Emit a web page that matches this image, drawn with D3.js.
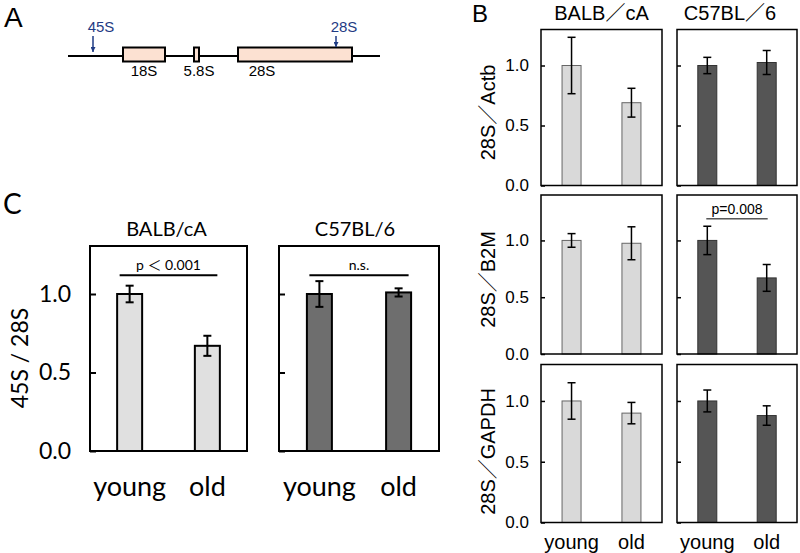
<!DOCTYPE html>
<html><head><meta charset="utf-8">
<script src="https://cdn.jsdelivr.net/npm/d3@7"></script>
<style>body{margin:0;background:#fff}svg{display:block}</style>
</head><body>
<svg id="chart" width="800" height="553"></svg>
<script>
// ---------- data ----------
const groups = ["young", "old"];
const strains = ["BALB/cA", "C57BL/6"];
const strainTitlesB = ["BALB／cA", "C57BL／6"];
const yTicks = [0, 0.5, 1.0];

// Panel C: 45S / 28S
const cBalbMean = [1.00, 0.67];
const cBalbErr  = [0.053, 0.064];
const cC57Mean  = [1.00, 1.01];
const cC57Err   = [0.082, 0.026];
const cSigLabels = ["p ＜ 0.001", "n.s."];

// Panel B: 28S normalised to reference genes
const bRowLabels = ["28S／Actb", "28S／B2M", "28S／GAPDH"];
const bBalbMean = [[1.00, 0.69], [1.00, 0.975], [1.00, 0.90]];
const bBalbErr  = [[0.235, 0.12], [0.06, 0.145], [0.15, 0.088]];
const bC57Mean  = [[1.00, 1.025], [1.00, 0.67], [1.00, 0.88]];
const bC57Err   = [[0.068, 0.10], [0.125, 0.118], [0.09, 0.08]];
const bYMax     = [1.30, 1.40, 1.30];
const bSig      = [null, [null, "p=0.008"], null];

// Panel A: rDNA map
const geneNames = ["18S", "5.8S", "28S"];
const geneStart = [123, 194, 238];
const geneEnd   = [165, 199, 352];
const probeNames = ["45S", "28S"];
const probePos   = [93, 336];

const svg = d3.select("#chart");

// ---------- generic bar panel ----------
function barPanel(o) {
  const g = svg.append("g").attr("transform", `translate(${o.x0},${o.top})`);
  const w = o.x1 - o.x0, h = o.bottom - o.top;
  const x = d3.scalePoint().domain(groups).range([0, w]).padding(0.51);
  const y = d3.scaleLinear().domain([0, o.ymax]).range([h, 0]);
  const data = groups.map((k, i) => ({k, m: o.mean[i], e: o.err[i]}));
  g.selectAll("rect.bar").data(data).join("rect").attr("class", "bar")
    .attr("x", d => x(d.k) - o.barW / 2).attr("width", o.barW)
    .attr("y", d => y(d.m)).attr("height", d => h - y(d.m))
    .attr("fill", o.fill).attr("stroke", o.barStroke).attr("stroke-width", o.barSW);
  const eb = g.selectAll("g.eb").data(data).join("g").attr("class", "eb")
    .attr("stroke", "#000").attr("stroke-width", o.errSW);
  eb.append("line").attr("x1", d => x(d.k)).attr("x2", d => x(d.k))
    .attr("y1", d => y(d.m + d.e)).attr("y2", d => y(d.m - d.e));
  eb.append("line").attr("x1", d => x(d.k) - o.cap).attr("x2", d => x(d.k) + o.cap)
    .attr("y1", d => y(d.m + d.e)).attr("y2", d => y(d.m + d.e));
  eb.append("line").attr("x1", d => x(d.k) - o.cap).attr("x2", d => x(d.k) + o.cap)
    .attr("y1", d => y(d.m - d.e)).attr("y2", d => y(d.m - d.e));
  const ax = g.append("g").call(d3.axisLeft(y).tickValues(yTicks)
      .tickSizeInner(-o.tick).tickSizeOuter(0).tickPadding(o.tickPad)
      .tickFormat(o.labels ? d3.format(".1f") : () => ""));
  ax.select(".domain").remove();
  ax.selectAll("line").attr("stroke", "#000").attr("stroke-width", o.boxSW);
  ax.selectAll("text").attr("font-size", o.tickFont).attr("font-family", o.font).attr("fill", "#000");
  g.append("rect").attr("width", w).attr("height", h).attr("fill", "none")
    .attr("stroke", "#000").attr("stroke-width", o.boxSW);
  if (o.sig) {
    const sy = y(o.sig.v);
    g.append("line").attr("x1", x(groups[0]) - o.sig.ext).attr("x2", x(groups[1]) + o.sig.ext)
      .attr("y1", sy).attr("y2", sy).attr("stroke", "#000").attr("stroke-width", o.sig.sw);
    g.append("text").attr("x", (x(groups[0]) + x(groups[1])) / 2).attr("y", sy - 5)
      .attr("text-anchor", "middle").attr("font-family", o.font).attr("font-size", o.sig.fs)
      .text(o.sig.text);
  }
  if (o.xlabels) {
    g.selectAll("text.xl").data(groups).join("text").attr("class", "xl")
      .attr("x", d => x(d)).attr("y", h + o.xlabDy).attr("text-anchor", "middle")
      .attr("font-family", o.font).attr("font-size", o.xlabFont).text(d => d);
  }
  return {g, x, y, w, h};
}

// ---------- Panel A ----------
const fontA = "'Liberation Sans', 'Noto Sans CJK JP', sans-serif";
svg.append("text").attr("x", 4).attr("y", 27).attr("font-family", fontA)
  .attr("font-size", 28).text("A");
const lineY = 56;
svg.append("line").attr("x1", 68).attr("x2", 380).attr("y1", lineY).attr("y2", lineY)
  .attr("stroke", "#000").attr("stroke-width", 2);
geneNames.forEach((n, i) => {
  svg.append("rect").attr("x", geneStart[i]).attr("y", lineY - 8.5)
    .attr("width", geneEnd[i] - geneStart[i]).attr("height", 14)
    .attr("fill", "#fce1d2").attr("stroke", "#000").attr("stroke-width", 2);
});
const labX = [144, 199, 262];
geneNames.forEach((n, i) => {
  svg.append("text").attr("x", labX[i]).attr("y", 76).attr("text-anchor", "middle")
    .attr("font-family", fontA).attr("font-size", 15).text(n);
});
const navy = "#1f3b84";
svg.append("defs").append("marker").attr("id", "arr").attr("viewBox", "0 0 10 10")
  .attr("refX", 10).attr("refY", 5).attr("markerWidth", 5).attr("markerHeight", 5)
  .attr("markerUnits", "userSpaceOnUse").attr("orient", "auto")
  .append("path").attr("d", "M0,0 L10,5 L0,10 Z").attr("fill", navy);
probeNames.forEach((n, i) => {
  const px = probePos[i];
  const endY = i === 0 ? 52 : 47;
  svg.append("line").attr("x1", px).attr("x2", px).attr("y1", 36).attr("y2", endY)
    .attr("stroke", navy).attr("stroke-width", 1.5).attr("marker-end", "url(#arr)");
  svg.append("text").attr("x", px + 8).attr("y", 32).attr("text-anchor", "middle")
    .attr("font-family", fontA).attr("font-size", 15).attr("fill", navy).text(n);
});

// ---------- Panel B ----------
const fontB = "'Liberation Sans', 'Noto Sans CJK JP', sans-serif";
svg.append("text").attr("x", 472).attr("y", 22).attr("font-family", fontB)
  .attr("font-size", 24).text("B");
const bCols = [{x0: 541, x1: 662}, {x0: 677, x1: 797}];
const bRowsPos = [{top: 29.5, bottom: 185.5}, {top: 195, bottom: 354}, {top: 364.5, bottom: 522.5}];
strainTitlesB.forEach((t, c) => {
  svg.append("text").attr("x", (bCols[c].x0 + bCols[c].x1) / 2 - (c ? 7 : 0)).attr("y", 20)
    .attr("text-anchor", "middle").attr("font-family", fontB).attr("font-size", 20).text(t);
});
bRowLabels.forEach((lab, r) => {
  const yc = (bRowsPos[r].top + bRowsPos[r].bottom) / 2 + (r === 2 ? 8 : 5);
  svg.append("text").attr("transform", `translate(495,${yc}) rotate(-90)`)
    .attr("text-anchor", "middle").attr("font-family", fontB).attr("font-size", 20).text(lab);
  [bBalbMean, bC57Mean].forEach((means, c) => {
    const errs = c === 0 ? bBalbErr : bC57Err;
    const sigTxt = bSig[r] ? bSig[r][c] : null;
    barPanel({
      x0: bCols[c].x0, x1: bCols[c].x1, top: bRowsPos[r].top, bottom: bRowsPos[r].bottom,
      ymax: bYMax[r], mean: means[r], err: errs[r],
      fill: c === 0 ? "#d9d9d9" : "#555555", barStroke: c === 0 ? "#666" : "#333", barSW: 1,
      barW: 19, cap: 4, errSW: 1.5, boxSW: 1.5, tick: 4, tickPad: 12,
      labels: c === 0, tickFont: 17, font: fontB,
      sig: sigTxt ? {v: 1.19, ext: 1, sw: 1, fs: 14, text: sigTxt} : null,
      xlabels: r === 2, xlabDy: 26, xlabFont: 20
    });
  });
});

// ---------- Panel C ----------
const fontC = "Lato, 'Open Sans', 'Noto Sans CJK JP', sans-serif";
svg.append("text").attr("x", 3).attr("y", 214).attr("font-family", fontC)
  .attr("font-size", 28).text("C");
const cCols = [{x0: 90, x1: 247}, {x0: 279, x1: 439}];
const cTop = 246, cBottom = 451;
const cMeans = [cBalbMean, cC57Mean], cErrs = [cBalbErr, cC57Err];
strains.forEach((t, c) => {
  svg.append("text").attr("x", (cCols[c].x0 + cCols[c].x1) / 2 - (c ? 4 : 2)).attr("y", 236)
    .attr("text-anchor", "middle").attr("font-family", fontC).attr("font-size", 20).text(t);
  barPanel({
    x0: cCols[c].x0, x1: cCols[c].x1, top: cTop, bottom: cBottom,
    ymax: (cBottom - cTop) / 157, mean: cMeans[c], err: cErrs[c],
    fill: c === 0 ? "#e0e0e0" : "#6e6e6e", barStroke: "#000", barSW: 2,
    barW: 25, cap: 4, errSW: 2, boxSW: 2, tick: 6, tickPad: 19,
    labels: c === 0, tickFont: 23, font: fontC,
    sig: {v: 1.12, ext: 10, sw: 2, fs: 14, text: cSigLabels[c]},
    xlabels: true, xlabDy: 45, xlabFont: 27
  });
});
svg.append("text").attr("transform", "translate(28,358) rotate(-90)")
  .attr("text-anchor", "middle").attr("font-family", fontC).attr("font-size", 23).text("45S / 28S");
</script>
</body></html>
